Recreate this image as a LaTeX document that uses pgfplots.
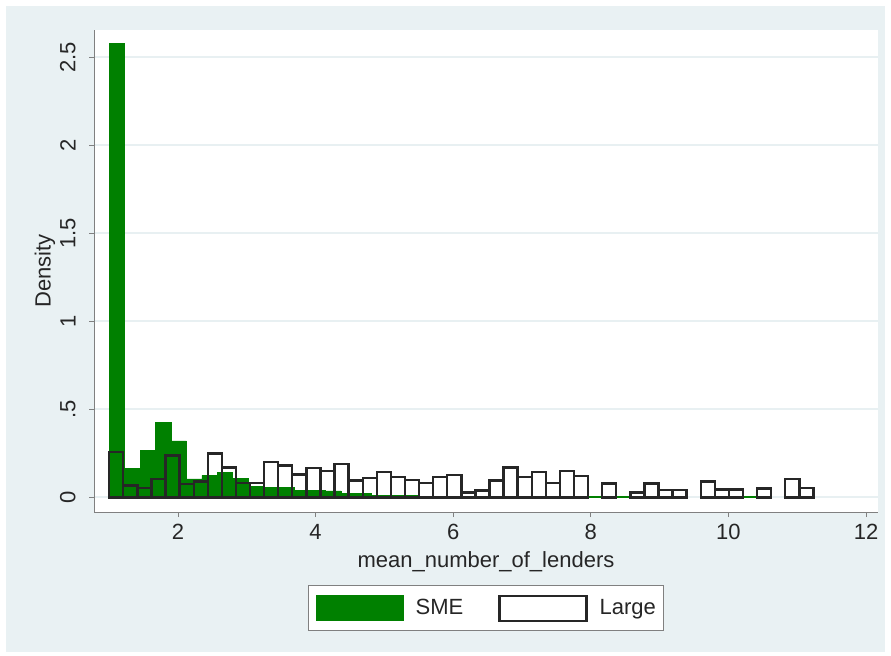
\documentclass[border=0pt]{standalone}
\usepackage{fontspec}
\setmainfont{Liberation Sans}
\usepackage{pgfplots}
\pgfplotsset{compat=1.18}
\definecolor{bgblue}{RGB}{233,241,243}
\definecolor{smegreen}{RGB}{0,128,0}
\definecolor{largeline}{RGB}{38,38,38}
\definecolor{axisgray}{RGB}{128,128,128}
\definecolor{gridcol}{RGB}{232,240,242}
\newcommand{\fs}{\fontsize{11}{13}\selectfont}
\begin{document}
\begin{tikzpicture}
\fill[white] (0,0) rectangle (445.5pt,327.5pt);
\fill[bgblue] (3pt,1.5pt) rectangle (442.5pt,324.5pt);
\begin{axis}[
  at={(47pt,71.5pt)}, anchor=south west,
  scale only axis, width=392pt, height=241pt,
  xmin=0.779, xmax=12.174, ymin=-0.0835, ymax=2.655,
  axis x line*=bottom, axis y line*=left,
  axis line style={axisgray, line width=0.5pt},
  axis background/.style={fill=white},
  xtick={2,4,...,12},
  ytick={0,0.5,1,1.5,2,2.5}, yticklabels={0,.5,1,1.5,2,2.5},
  tick align=outside, major tick length=2.5pt,
  tick style={axisgray, line width=0.5pt},
  minor tick num=0,
  ymajorgrids, grid style={gridcol, line width=1pt},
  /pgf/number format/assume math mode=true,
  tick label style={font=\fs, text=black!85},
  yticklabel style={rotate=90, anchor=south, inner xsep=0pt, inner ysep=6.5pt},
  xlabel={mean\_number\_of\_lenders}, ylabel={Density},
  xlabel style={font=\fs, text=black!85, at={(axis description cs:0.5,0)}, anchor=center, yshift=-25pt},
  ylabel style={font=\fs, text=black!85, at={([xshift=-24.5pt]axis description cs:0,0.5)}, anchor=center},
  legend columns=2,
  legend style={at={(axis description cs:0.5,0)}, anchor=north, yshift=-36.5pt,
    draw=axisgray, fill=white, line width=0.5pt, inner xsep=4pt, inner ysep=4.5pt,
    font=\fs, text=black!85,
    /tikz/every even column/.append style={column sep=17.5pt},
    /tikz/every odd column/.append style={column sep=6pt},
    nodes={inner sep=0pt}},
]
\addplot[ybar, bar shift=0pt, bar width=0.2245, fill=smegreen, draw=smegreen, line width=0.3pt,
  legend image code/.code={\fill[smegreen] (0pt,-6.25pt) rectangle (43.5pt,6.25pt);}]
coordinates {
(1.1123,2.58) (1.3368,0.166) (1.5613,0.265) (1.7858,0.426) (2.0103,0.32)
(2.2348,0.105) (2.4593,0.125) (2.6838,0.14) (2.9083,0.106) (3.1328,0.064)
(3.3573,0.055) (3.5818,0.055) (3.8063,0.04) (4.0308,0.04) (4.2553,0.036)
(4.4798,0.023) (4.7043,0.02) (4.9288,0.01) (5.1533,0.012) (5.3778,0.012)
(5.6023,0.005) (5.8268,0.005) (6.0513,0.004) (6.2758,0.004) (6.5003,0.004)
(6.7248,0.004) (6.9493,0.004) (7.1738,0.004) (7.3983,0.004) (7.6228,0.004)
(7.8473,0.004) (8.0718,0.004) (8.2963,0.004) (8.5208,0.004) (10.3253,0.004)
};
\addlegendentry{SME}
\addplot[ybar, bar shift=0pt, bar width=0.2047, fill=none, draw=largeline, line width=1.2pt,
  legend image code/.code={\draw[largeline, line width=1.1pt, fill=white] (0pt,-6.25pt) rectangle (43.5pt,6.25pt);}]
coordinates {
(1.1024,0.256) (1.3071,0.066) (1.5118,0.053) (1.7165,0.104) (1.9212,0.237)
(2.1259,0.076) (2.3306,0.089) (2.5353,0.25) (2.7400,0.17) (2.9447,0.081)
(3.1494,0.081) (3.3541,0.20) (3.5588,0.18) (3.7635,0.13) (3.9682,0.165)
(4.1729,0.15) (4.3776,0.19) (4.5823,0.095) (4.7870,0.108) (4.9917,0.145)
(5.1964,0.114) (5.4011,0.098) (5.6058,0.081) (5.8105,0.114) (6.0152,0.127)
(6.2199,0.028) (6.4246,0.038) (6.6293,0.095) (6.8340,0.17) (7.0387,0.114)
(7.2434,0.145) (7.4481,0.081) (7.6528,0.15) (7.8575,0.12)
(8.2669,0.078) (8.6763,0.028) (8.8810,0.078) (9.0857,0.04) (9.2904,0.04)
(9.6998,0.09) (9.9045,0.045) (10.1092,0.045) (10.5186,0.05)
(10.9280,0.105) (11.1327,0.052)
};
\addlegendentry{Large}
\end{axis}
\end{tikzpicture}
\end{document}
